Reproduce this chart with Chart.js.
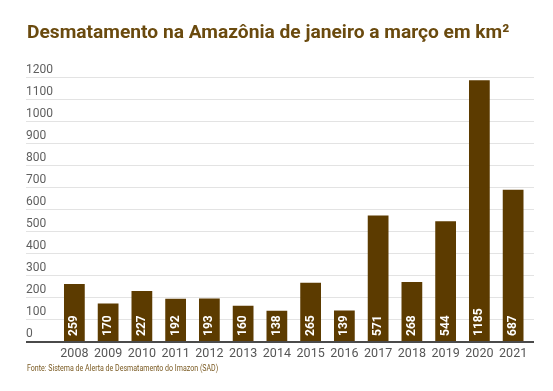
<!DOCTYPE html>
<html>
<head>
<meta charset="utf-8">
<script src="https://cdn.jsdelivr.net/npm/chart.js@4.4.0/dist/chart.umd.min.js"></script>
<style>
    body { margin: 0; background: #fff; }
    #wrap { width: 553px; height: 391px; }
</style>
</head>
<body>
<div id="wrap"><canvas id="desmatamentoChart" width="553" height="391"></canvas></div>
<script>
// dados
const anos = ['2008', '2009', '2010', '2011', '2012', '2013', '2014', '2015', '2016', '2017', '2018', '2019', '2020', '2021'];
const areaKm2 = [259, 170, 227, 192, 193, 160, 138, 265, 139, 571, 268, 544, 1185, 687];
const yTicks = [0, 100, 200, 300, 400, 500, 600, 700, 800, 900, 1000, 1100, 1200];
const titulo = 'Desmatamento na Amazônia de janeiro a março em km²';
const fonte = 'Fonte: Sistema de Alerta de Desmatamento do Imazon (SAD)';

const marrom = '#5c3b00';

// grade, eixos, rótulos e textos
const desenhoExtra = {
    id: 'desenhoExtra',
    beforeDatasetsDraw(chart) {
        const ctx = chart.ctx;
        const y = chart.scales.y;
        ctx.save();
        ctx.strokeStyle = '#e3e3e3';
        ctx.lineWidth = 1;
        yTicks.forEach(v => {
            if (v === 0) return;
            const py = Math.round(y.getPixelForValue(v)) + 0.5;
            ctx.beginPath();
            ctx.moveTo(26, py);
            ctx.lineTo(534, py);
            ctx.stroke();
        });
        ctx.fillStyle = '#5f5f5f';
        ctx.font = '12px Roboto';
        ctx.textAlign = 'left';
        ctx.textBaseline = 'alphabetic';
        yTicks.forEach(v => {
            ctx.fillText(String(v), 26, y.getPixelForValue(v) - 4);
        });
        ctx.restore();
    },
    afterDatasetsDraw(chart) {
        const ctx = chart.ctx;
        const x = chart.scales.x;
        const y = chart.scales.y;
        const base = y.getPixelForValue(0);
        ctx.save();
        // linha de base
        ctx.strokeStyle = '#4a4a4a';
        ctx.lineWidth = 2;
        ctx.beginPath();
        ctx.moveTo(26, base + 1);
        ctx.lineTo(534, base + 1);
        ctx.stroke();
        // valores dentro das barras
        const meta = chart.getDatasetMeta(0);
        ctx.fillStyle = '#ffffff';
        ctx.font = 'bold 12px Roboto';
        ctx.textAlign = 'left';
        ctx.textBaseline = 'middle';
        meta.data.forEach((bar, i) => {
            ctx.save();
            ctx.translate(bar.x, base - 5);
            ctx.rotate(-Math.PI / 2);
            ctx.fillText(String(areaKm2[i]), 0, 0);
            ctx.restore();
        });
        // anos
        ctx.fillStyle = '#555555';
        ctx.font = '12.5px Roboto';
        ctx.textAlign = 'center';
        ctx.textBaseline = 'middle';
        anos.forEach((a, i) => {
            ctx.fillText(a, x.getPixelForValue(i), 354);
        });
        // título
        ctx.fillStyle = '#6a4a0e';
        ctx.font = 'bold 19.2px Roboto';
        ctx.textAlign = 'left';
        ctx.fillText(titulo, 27, 33);
        // fonte (letra estreita)
        ctx.save();
        ctx.translate(27, 369);
        ctx.scale(0.83, 1);
        ctx.fillStyle = '#7a5a22';
        ctx.font = '8.5px Roboto';
        ctx.fillText(fonte, 0, 0);
        ctx.restore();
        ctx.restore();
    }
};

new Chart(document.getElementById('desmatamentoChart'), {
    type: 'bar',
    data: {
        labels: anos,
        datasets: [{
            data: areaKm2,
            backgroundColor: marrom,
            borderWidth: 0,
            categoryPercentage: 1,
            barPercentage: 0.615
        }]
    },
    options: {
        responsive: false,
        animation: false,
        layout: { padding: { left: 57.5, right: 23, top: 77, bottom: 50 } },
        plugins: {
            legend: { display: false },
            tooltip: { enabled: false }
        },
        scales: {
            x: { display: false },
            y: { display: false, min: 0, max: 1200 }
        }
    },
    plugins: [desenhoExtra]
});
</script>
</body>
</html>
